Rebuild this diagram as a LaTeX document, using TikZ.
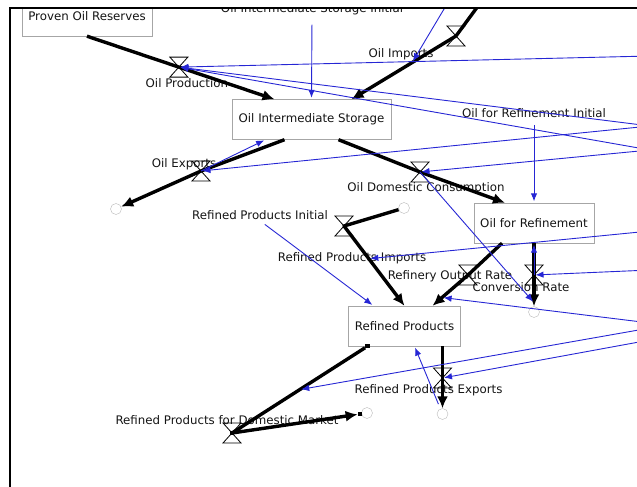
\documentclass[tikz,border=0pt]{standalone}
\usepackage{fontspec}
\setmainfont{DejaVu Sans}
\usetikzlibrary{calc,arrows.meta,positioning}
\definecolor{linkblue}{RGB}{38,38,212}
\tikzset{
    stock/.style = {draw=black!35, rectangle, fill=white,
        minimum height=40pt, inner xsep=6.5pt, align=center},
    lbl/.style = {inner sep=1pt},
    cloud/.style = {draw=black!28, circle, minimum size=11pt, inner sep=0pt},
    flow/.style = {draw, line width=3.4pt, line join=round, -{Latex[length=12pt,width=11pt]}},
    link/.style = {draw=linkblue, line width=0.9pt, shorten >=1.5pt, -{Latex[length=8pt,width=6.5pt]}},
    handle/.style = {fill=black, rectangle, minimum size=4.5pt, inner sep=0pt},
    valvebody/.style = {draw, line width=0.8pt}
}
\def\hourglass{%
    +(-9,-10) -- +(9,-10) -- +(-9,10) -- +(9,10) -- cycle
}

\begin{document}
\begin{tikzpicture}[x=1pt, y=-1pt, font=\fontsize{11.8}{14}\selectfont, every node/.style={text=black!92}]
    \useasboundingbox (0,0) rectangle (637,487);
    \begin{scope}
        \clip (10,8) rectangle (637,487);
        \node [stock] (reserves) at (87,16) {Proven Oil Reserves};
        \node [stock] (store) at (311.5,119.5) {Oil Intermediate Storage};
        \node [stock] (refine) at (534,223) {Oil for Refinement};
        \node [stock] (rp) at (404.5,326) {Refined Products};
        \node [lbl, anchor=base] (stinit) at (312,13) {Oil Intermediate Storage Initial};
        \node [lbl, above of=refine, node distance=110pt] (refinit) {Oil for Refinement Initial};
        \node [lbl] (rpinit) at (260,215) {Refined Products Initial};
        \node [cloud] (cexp) at (116,209) {};
        \node [cloud] (cimpr) at (404,208) {};
        \node [cloud] (cconv) at (534,312) {};
        \node [cloud] (cdomm) at (367,413) {};
        \node [cloud] (crpexp) at (442.5,414) {};
        \node [coordinate] (impsrc) at (481,2) {};
        \node [coordinate] (vprod) at ($(reserves.south)!0.49!([xshift=-37pt]store.north)$) {};
        \node [coordinate] (vimp) at (456,36) {};
        \node [coordinate] (vexp) at (201,171) {};
        \node [coordinate] (vdom) at (420,172) {};
        \node [coordinate] (vrpimp) at (344,226) {};
        \node [coordinate] (vout) at (468,275) {};
        \node [coordinate] (vconv) at (534,275) {};
        \node [coordinate] (vrpexp) at (442.5,378) {};
        \node [coordinate] (vdomm) at (232,433) {};
        \node [lbl, below of=vprod, node distance=16pt, xshift=8pt] (prodlbl) {Oil Production};
        \node [lbl, below of=vimp, node distance=18pt, xshift=-55pt] (implbl) {Oil Imports};
        \node [lbl, above of=vexp, node distance=7pt, xshift=-17pt] (explbl) {Oil Exports};
        \node [lbl, below of=vdom, node distance=16pt, xshift=6pt] (domlbl) {Oil Domestic Consumption};
        \node [lbl, below of=vrpimp, node distance=32pt, xshift=8pt] (rpimplbl) {Refined Products Imports};
        \node [lbl, left of=vout, node distance=18pt, yshift=-1pt] (outlbl) {Refinery Output Rate};
        \node [lbl, below of=vconv, node distance=12pt, xshift=-13pt] (convlbl) {Conversion Rate};
        \node [lbl, below of=vrpexp, node distance=12pt, xshift=-14pt] (rpexplbl) {Refined Products Exports};
        \node [lbl, above of=vdomm, node distance=13pt, xshift=-5pt] (dommlbl) {Refined Products for Domestic Market};
        \node [coordinate] (rA) at (650,56) {};
        \node [coordinate] (rB) at (650,126) {};
        \node [coordinate] (rC) at (650,150) {};
        \node [coordinate] (rD) at (650,231) {};
        \node [coordinate] (rE) at (650,270) {};
        \node [coordinate] (rF) at (650,323) {};
        \node [coordinate] (rG) at (650,328) {};
        \node [coordinate] (rH) at (650,340) {};
        \node [coordinate] (topsrc) at (447,4) {};
        \node [coordinate] (impmid) at ($(vimp)!0.42!([xshift=40pt]store.north)$) {};
        \node [coordinate] (rpimpmid) at ($(vrpimp)!0.41!(rp.north)$) {};
        \node [coordinate] (outmid) at ($(vout)!0.73!([xshift=28pt]rp.north)$) {};
        \node [coordinate] (dommid) at ($([xshift=-37pt]rp.south)!0.5!(vdomm)$) {};
        \node [coordinate] (convmid) at ($(vconv)!0.75!(cconv)$) {};
        \node [handle] (hA) at ([xshift=-37pt]rp.south) {};
        \node [handle] (hB) at (vdomm) {};
        \node [handle] (hC) at ($(cdomm)!7pt!(vdomm)$) {};
        \draw [flow] (reserves.south) -- (vprod) -- ([xshift=-37pt]store.north);
        \draw [flow] (impsrc) -- (vimp) -- ([xshift=40pt]store.north);
        \draw [flow] ([xshift=-27pt]store.south) -- (vexp) -- (cexp);
        \draw [flow] ([xshift=27pt]store.south) -- (vdom) -- ([xshift=-29pt]refine.north);
        \draw [flow] (cimpr) -- (vrpimp) -- (rp.north);
        \draw [flow] ([xshift=-32pt]refine.south) -- (vout) -- ([xshift=28pt]rp.north);
        \draw [flow] (refine.south) -- (vconv) -- (cconv);
        \draw [flow] ([xshift=38pt]rp.south) -- (vrpexp) -- (crpexp);
        \draw [flow] (hA) -- (vdomm) -- (hC);
        \foreach \v in {vprod,vimp,vexp,vdom,vrpimp,vout,vconv,vrpexp,vdomm}
            \draw [valvebody] (\v) \hourglass;
        \foreach \s/\t in {rA/vprod, rB/vprod, rC/vprod, rB/vexp, rC/vdom, rD/rpimpmid, rE/vconv, rF/outmid, rG/dommid, rH/vrpexp, topsrc/impmid}
            \draw [link] (\s) -- (\t);
        \draw [link, shorten <=8pt] (stinit.south) -- (store.north);
        \draw [link, shorten <=6pt] (refinit.south) -- (refine.north);
        \draw [link, shorten <=6pt] (rpinit.south) -- ([xshift=-31pt]rp.north);
        \draw [link] (vexp) -- ([xshift=-46pt]store.south);
        \draw [link] (vdom) -- (convmid);
        \draw [link] (vconv) -- (refine.south);
        \draw [link, shorten <=5pt] (crpexp) -- ([xshift=10pt]rp.south);
    \end{scope}
    \draw [line width=1.6pt] (637,8) -- (10,8) -- (10,487);
\end{tikzpicture}
\end{document}
